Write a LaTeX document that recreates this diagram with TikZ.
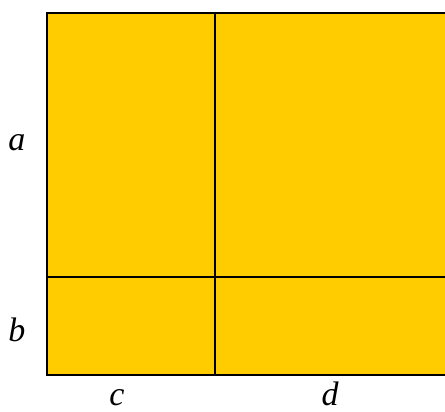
\documentclass[tikz,border=0pt]{standalone}
\usepackage{fontspec}
\setmainfont{Liberation Serif}
\usepackage{tikz}

\definecolor{areafill}{HTML}{FFCC00}

\begin{document}
\begin{tikzpicture}[x=1pt,y=-1pt]
  \tikzset{side/.style={font=\fontsize{34}{38}\selectfont\itshape,anchor=base,inner sep=0pt}}
  \useasboundingbox (0,0) rectangle (445,412);
  \fill[areafill] (47,13) rectangle (445,375);
  \draw[line width=2.4pt] (445,13) -- (47,13) -- (47,375) -- (445,375);
  \draw[line width=2.4pt] (215,13) -- (215,375);
  \draw[line width=2.4pt] (47,277) -- (445,277);
  \node[side] (a) at (17,150) {a};
  \node[side] (b) at (17,341) {b};
  \node[side] (c) at (117,405) {c};
  \node[side] (d) at (330,405) {d};
\end{tikzpicture}
\end{document}
